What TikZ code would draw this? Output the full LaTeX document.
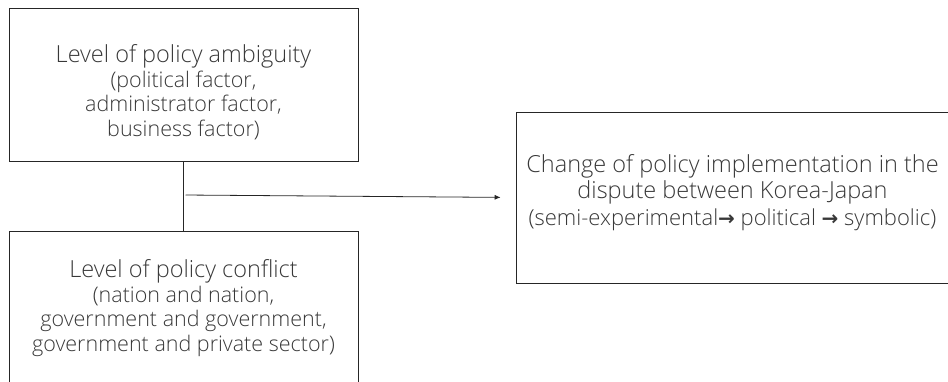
\documentclass[tikz,border=0pt]{standalone}
\usepackage{fontspec}
\setmainfont{Open Sans}[UprightFont=* Light]
\newfontfamily\arrowfont{DejaVu Sans}
\usetikzlibrary{arrows.meta,calc,positioning}
\definecolor{boxline}{rgb}{0.15, 0.15, 0.15}
\definecolor{inkgray}{rgb}{0.22, 0.22, 0.22}
\newcommand{\headfont}{\fontsize{23.5}{24.5}\selectfont}
\newcommand{\sto}{{\arrowfont\bfseries\fontsize{20}{20}\selectfont →}}
\newcommand{\toppad}{\rule{0pt}{33pt}}
\newcommand{\botpad}{\rule[-15pt]{0pt}{15pt}}
\tikzset{
  factor/.style={
    draw=boxline,
    line width=.8pt,
    text=inkgray,
    align=center,
    minimum width=349pt,
    minimum height=153pt,
    inner sep=0pt,
    font=\fontsize{21.5}{24.5}\selectfont
  },
  outcome/.style={
    factor,
    minimum width=433pt,
    minimum height=171pt,
    font=\fontsize{22}{26.5}\selectfont
  },
  arrow/.style={
    -{Latex[length=6pt,width=5pt]},
    line width=.8pt,
    boxline
  }
}
\begin{document}
\begin{tikzpicture}[x=1pt,y=-1pt]
\useasboundingbox (0,0) rectangle (948,382);
\clip (0,0) rectangle (948,382);
\node[factor] (ambig) at (183.5,84.5) {{\headfont\toppad Level of policy ambiguity}\\(political factor,\\administrator factor,\\business factor)};
\node[factor, below=70pt of ambig] (conflict) {{\headfont Level of policy conflict}\\(nation and nation,\\government and government,\\government and private sector)};
\node[outcome] (change) at (732.5,197.5) {{\headfont Change of policy implementation in the}\\{\headfont dispute between Korea-Japan}\\(semi-experimental\sto{} political \sto{} symbolic)\botpad};
% link between the two factors and the outcome
\draw[boxline, line width=.8pt] (ambig.south) -- (conflict.north);
\coordinate (junc) at ($(ambig.south)!.48!(conflict.north)$);
\draw[arrow, shorten <=2pt, shorten >=15pt] (junc) -- (change.west);
\end{tikzpicture}
\end{document}
